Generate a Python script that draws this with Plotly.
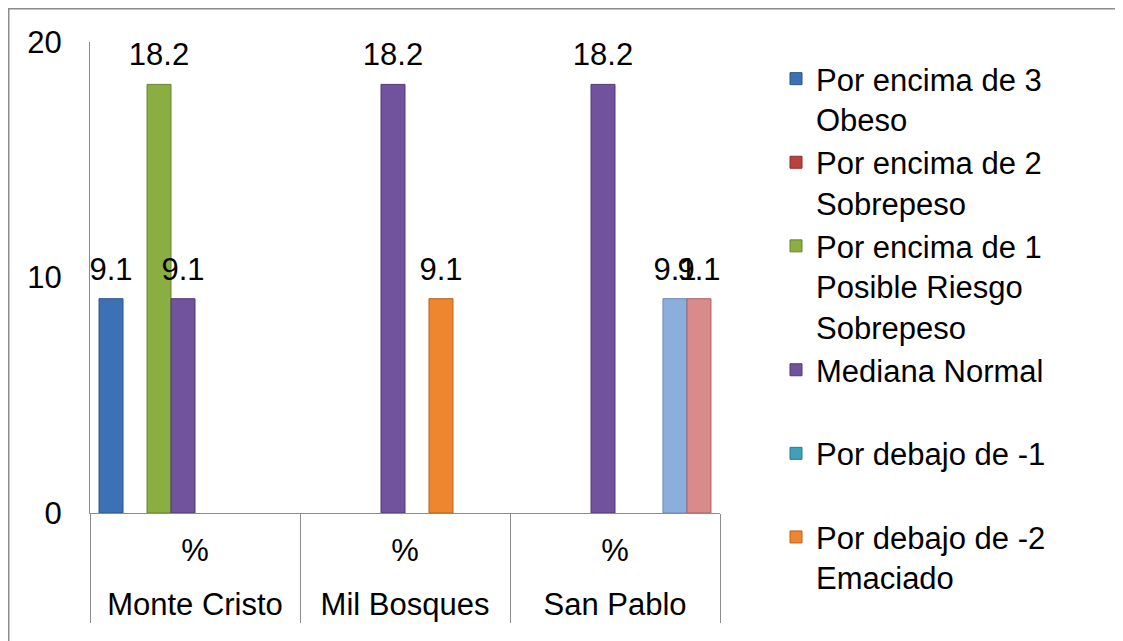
import plotly.graph_objects as go

# ---- data ----
groups = ["Monte Cristo", "Mil Bosques", "San Pablo"]
units = ["%", "%", "%"]

series_names = [
    "Por encima de 3<br>Obeso",
    "Por encima de 2<br>Sobrepeso",
    "Por encima de 1<br>Posible Riesgo<br>Sobrepeso",
    "Mediana Normal<br> ",
    "Por debajo de -1<br> ",
    "Por debajo de -2<br>Emaciado",
    "Serie 7",
    "Serie 8",
]
series_visible_in_legend = [True, True, True, True, True, True, False, False]

obeso = [9.1, None, None]
sobrepeso = [None, None, None]
posible_riesgo = [18.2, None, None]
mediana_normal = [9.1, 18.2, 18.2]
debajo_1 = [None, None, None]
emaciado = [None, 9.1, None]
serie_7 = [None, None, 9.1]
serie_8 = [None, None, 9.1]
series_values = [obeso, sobrepeso, posible_riesgo, mediana_normal,
                 debajo_1, emaciado, serie_7, serie_8]

colors = ["#3C72B5", "#B8423F", "#8BAE42", "#70539C",
          "#3FA0BA", "#EE8630", "#8CAEDD", "#D98A8A"]
edge_colors = ["#2A5588", "#8A2E2C", "#678530", "#513A75",
               "#2C7A8E", "#B8601C", "#6A88B3", "#A86464"]

y_ticks = [0, 10, 20]

FONT = "Liberation Sans, Arial, sans-serif"
FS = 31
AXIS_GRAY = "#8C8C8C"
NB = "\u00a0"

# invisible tall spacers (keep label text unchanged, only enlarge its box)
def padded(txt, size):
    sp = f'<span style="font-size:{size}px">{NB}</span>'
    return sp + txt + sp

unit_labels = [padded(u, 55) for u in units]

fig = go.Figure()
for name, vals, col, ecol, show in zip(series_names, series_values, colors,
                                       edge_colors, series_visible_in_legend):
    fig.add_trace(go.Bar(
        x=[groups, unit_labels],
        y=vals,
        name=name,
        legendgroup=name,
        showlegend=show,
        marker=dict(color=col, line=dict(color=ecol, width=1)),
        texttemplate=padded("%{y}", 76),
        textposition="outside",
        constraintext="none",
        cliponaxis=False,
        textfont=dict(family=FONT, size=FS, color="black"),
    ))

# figure is drawn at page offset (8, 8); coordinates below are figure pixels
W, H = 1115, 633
L, T = 82, 34
R, B = W - 712, H - 505
pw, ph = W - L - R, H - T - B

def px(xpix):
    return (xpix - L) / pw

def py(ypix):
    return (H - B - ypix) / ph

fig.update_layout(
    width=W, height=H,
    margin=dict(l=L, r=R, t=T, b=B, pad=0, autoexpand=False),
    paper_bgcolor="white", plot_bgcolor="white",
    font=dict(family=FONT, size=FS, color="black"),
    barmode="group", bargap=0.086, bargroupgap=0,
    showlegend=True,
    legend=dict(
        x=px(768), xanchor="left",
        y=py(44), yanchor="top",
        maxheight=620,
        font=dict(family=FONT, size=FS, color="black"),
        traceorder="grouped", tracegroupgap=0,
        valign="top", bgcolor="rgba(0,0,0,0)",
    ),
    xaxis=dict(
        type="multicategory",
        automargin=False,
        showline=True, linecolor=AXIS_GRAY, linewidth=1,
        showgrid=False, ticks="",
        ticklabelstandoff=10,
        showdividers=True, dividercolor=AXIS_GRAY, dividerwidth=1,
        tickfont=dict(family=FONT, size=FS, color="black"),
    ),
    yaxis=dict(
        range=[0, 20], tickvals=y_ticks,
        automargin=False,
        showline=True, linecolor=AXIS_GRAY, linewidth=1,
        showgrid=False, zeroline=False, ticks="",
        ticklabelstandoff=21,
        tickfont=dict(family=FONT, size=FS, color="black"),
    ),
    shapes=[dict(
        type="path", xref="paper", yref="paper",
        path=f"M {px(0.75)},{py(H)} L {px(0.75)},{py(0.75)} L {px(W)},{py(0.75)}",
        line=dict(color="#8C8C8C", width=1.5),
    )],
)

fig.write_html("out.html")
